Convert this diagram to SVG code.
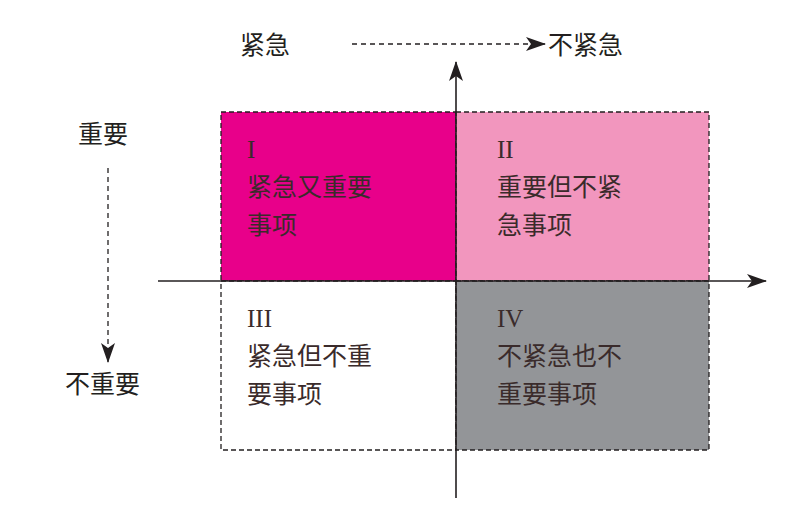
<svg xmlns="http://www.w3.org/2000/svg" width="803" height="524" viewBox="0 0 803 524">
<style>
.t{font-family:"Noto Sans CJK SC","Liberation Sans",sans-serif;font-size:25px;fill:#231f20}
.q{font-family:"Liberation Serif","Noto Sans CJK SC",serif;font-size:25px;fill:#3a2b2b}
.qc{font-family:"Noto Sans CJK SC",sans-serif;font-size:25px;fill:#3a2b2b}
.box{stroke:#231f20;stroke-width:1.3;stroke-dasharray:5 3}
.ax{stroke:#231f20;stroke-width:1.6;fill:none}
.dash{stroke:#231f20;stroke-width:1.3;stroke-dasharray:5 4;fill:none}
</style>
<defs>
<marker id="ah" viewBox="0 0 20 14" refX="19" refY="7" markerWidth="20" markerHeight="14" markerUnits="userSpaceOnUse" orient="auto"><path d="M0,0 L20,7 L0,14 L5,7 Z" fill="#231f20"/></marker>
</defs>
<rect width="803" height="524" fill="#fff"/>
<g id="q1"><rect class="box" x="221" y="112" width="235" height="169" fill="#e8008a"/>
<text class="q" x="247" y="158">I</text><text class="qc" x="247" y="196">紧急又重要</text><text class="qc" x="247" y="234">事项</text></g>
<g id="q2"><rect class="box" x="456" y="112" width="253" height="169" fill="#f296be"/>
<text class="q" x="497" y="158">II</text><text class="qc" x="497" y="196">重要但不紧</text><text class="qc" x="497" y="234">急事项</text></g>
<g id="q3"><rect class="box" x="221" y="281" width="235" height="169" fill="#fff"/>
<text class="q" x="247" y="327">III</text><text class="qc" x="247" y="365">紧急但不重</text><text class="qc" x="247" y="403">要事项</text></g>
<g id="q4"><rect class="box" x="456" y="281" width="253" height="169" fill="#939598"/>
<text class="q" x="497" y="327">IV</text><text class="qc" x="497" y="365">不紧急也不</text><text class="qc" x="497" y="403">重要事项</text></g>
<g id="labels">
<text class="t" x="240" y="54">紧急</text>
<text class="t" x="548" y="54">不紧急</text>
<text class="t" x="78" y="143">重要</text>
<text class="t" x="65" y="393">不重要</text>
</g>
<g id="connectors">
<line class="ax" x1="456" y1="498" x2="456" y2="62" marker-end="url(#ah)"/>
<line class="ax" x1="158" y1="281" x2="766" y2="281" marker-end="url(#ah)"/>
<line class="dash" x1="352" y1="44" x2="545" y2="44" marker-end="url(#ah)"/>
<line class="dash" x1="108" y1="168" x2="108" y2="362" marker-end="url(#ah)"/>
</g>
</svg>
